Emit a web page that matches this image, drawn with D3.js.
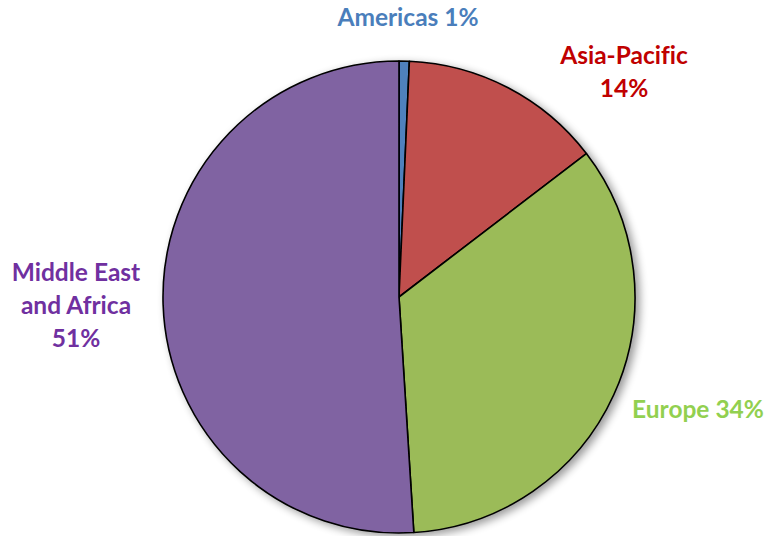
<!DOCTYPE html>
<html>
<head>
<meta charset="utf-8">
<script src="https://cdn.jsdelivr.net/npm/d3@7/dist/d3.min.js"></script>
<style>
  html, body { margin: 0; padding: 0; background: #fff; }
  svg { display: block; }
  text { font-family: Lato, "Open Sans", "Liberation Sans", sans-serif; font-weight: 700; font-variant-ligatures: none; }
</style>
</head>
<body>
<svg id="chart" width="768" height="536"></svg>
<script>
// Regional share of the total (percent)
const regions = ["Americas", "Asia-Pacific", "Europe", "Middle East and Africa"];
const shares = [0.7, 13.9, 34.4, 51.0];
const sliceColors = ["#4F81BD", "#C0504D", "#9BBB59", "#8064A2"];
const labelColors = ["#4A7EBB", "#C00000", "#92D050", "#7030A0"];
// Label text lines per region ("{v}" is replaced with the rounded share)
const labelLines = [
  ["Americas {v}%"],
  ["Asia-Pacific", "{v}%"],
  ["Europe {v}%"],
  ["Middle East", "and Africa", "{v}%"]
];
// Label anchor points (centre x, first baseline y)
const labelPos = [[408, 26], [624, 64], [698, 418], [76, 281]];

const W = 768, H = 536;
const cx = 399, cy = 297, R = 236;

const svg = d3.select("#chart");

const defs = svg.append("defs");
const f = defs.append("filter").attr("id", "shadow")
  .attr("x", "-10%").attr("y", "-10%").attr("width", "125%").attr("height", "125%");
f.append("feGaussianBlur").attr("in", "SourceAlpha").attr("stdDeviation", 4).attr("result", "b");
f.append("feOffset").attr("in", "b").attr("dx", 4).attr("dy", 3).attr("result", "o");
f.append("feComponentTransfer").attr("in", "o").attr("result", "s")
  .append("feFuncA").attr("type", "linear").attr("slope", 0.4);
const m = f.append("feMerge");
m.append("feMergeNode").attr("in", "s");
m.append("feMergeNode").attr("in", "SourceGraphic");

const data = regions.map((r, i) => ({ region: r, value: shares[i], i }));

const pie = d3.pie().value(d => d.value).sort(null);
const arc = d3.arc().innerRadius(0).outerRadius(R);

const g = svg.append("g").attr("transform", `translate(${cx},${cy})`);

g.append("g").attr("filter", "url(#shadow)")
  .selectAll("path")
  .data(pie(data))
  .join("path")
  .attr("d", arc)
  .attr("fill", d => sliceColors[d.data.i])
  .attr("stroke", "#000")
  .attr("stroke-width", 1.6)
  .attr("stroke-linejoin", "round");

const lineH = 33;
const labels = svg.append("g");
data.forEach(d => {
  const [x, y] = labelPos[d.i];
  const t = labels.append("text")
    .attr("x", x).attr("y", y)
    .attr("text-anchor", "middle")
    .attr("font-size", 24.5)
    .attr("fill", labelColors[d.i]);
  labelLines[d.i].forEach((ln, k) => {
    t.append("tspan")
      .attr("x", x)
      .attr("y", y + k * lineH)
      .text(ln.replace("{v}", Math.round(d.value)));
  });
});
</script>
</body>
</html>
